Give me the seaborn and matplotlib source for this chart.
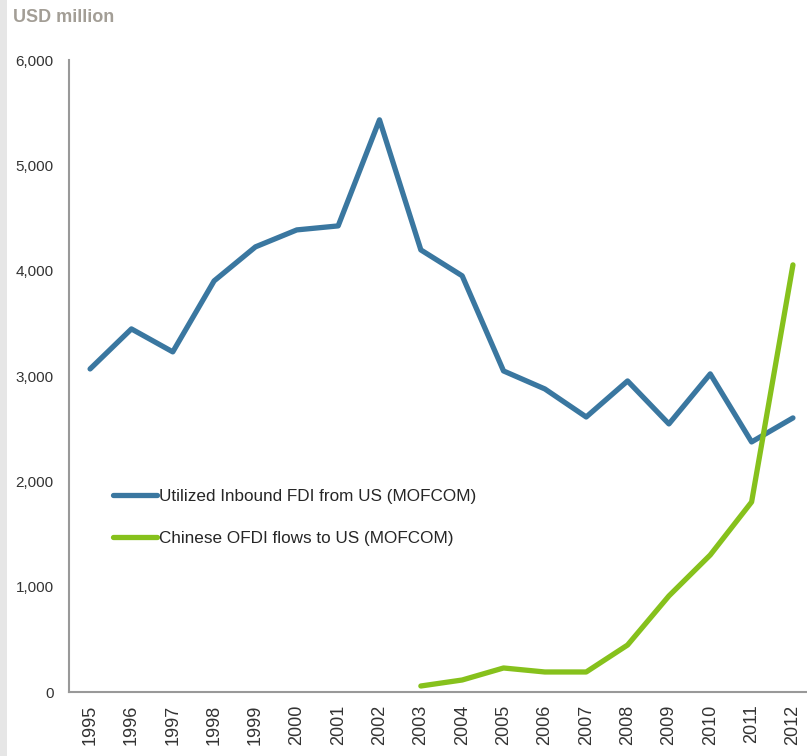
import matplotlib
matplotlib.use("Agg")
import matplotlib.pyplot as plt
import seaborn as sns
import pandas as pd
from matplotlib.patches import Rectangle

years = list(range(1995, 2013))
fdi_from_us = [3067, 3447, 3229, 3903, 4226, 4387, 4425, 5432, 4197, 3951,
               3048, 2877, 2611, 2953, 2545, 3020, 2374, 2602]
ofdi_years = list(range(2003, 2013))
ofdi_to_us = [57, 114, 228, 190, 190, 446, 912, 1301, 1804, 4055]
y_ticks = [0, 1000, 2000, 3000, 4000, 5000, 6000]
y_tick_labels = ["0", "1,000", "2,000", "3,000", "4,000", "5,000", "6,000"]
label_fdi = "Utilized Inbound FDI from US (MOFCOM)"
label_ofdi = "Chinese OFDI flows to US (MOFCOM)"

sns.set_style("white")
plt.rcParams['font.family'] = ['Liberation Sans', 'DejaVu Sans']

df1 = pd.DataFrame({"year": years, "value": fdi_from_us})
df2 = pd.DataFrame({"year": ofdi_years, "value": ofdi_to_us})

fig = plt.figure(figsize=(8.07, 7.56), dpi=100)
fig.patches.append(Rectangle((0, 0), 7/807, 1, transform=fig.transFigure,
                             facecolor="#e6e6e6", edgecolor="none", zorder=0))
ax = fig.add_axes([69/807, 64/756, 738/807, 632/756])

sns.lineplot(data=df1, x="year", y="value", ax=ax, color="#3a77a0", lw=3.8,
             label=label_fdi, solid_capstyle="round")
sns.lineplot(data=df2, x="year", y="value", ax=ax, color="#86c11c", lw=3.8,
             label=label_ofdi, solid_capstyle="round")

ax.set_xlim(1994.49, 2012.34)
ax.set_ylim(0, 6000)
ax.set_xticks(years)
ax.set_xticklabels([str(y) for y in years], rotation=90, fontsize=13, color="#333333")
ax.set_yticks(y_ticks)
ax.set_yticklabels(y_tick_labels, fontsize=11, color="#333333")
ax.tick_params(axis="y", length=0, pad=11)
ax.tick_params(axis="x", length=0, pad=9)
ax.set_xlabel("")
ax.set_ylabel("")
for s in ["top", "right"]:
    ax.spines[s].set_visible(False)
for s in ["left", "bottom"]:
    ax.spines[s].set_color("#999999")
    ax.spines[s].set_linewidth(1.5)

fig.text(13/807, 1 - 18/756, "USD million", fontsize=13, fontweight="bold",
         color="#a39e96", va="center", ha="left")

leg = ax.legend(loc="upper left", bbox_to_anchor=(0.05, 0.332), frameon=False,
                fontsize=12.3, handlelength=2.6, handletextpad=0.1, labelspacing=1.6,
                borderaxespad=0)

fig.savefig("out.png", dpi=100)
